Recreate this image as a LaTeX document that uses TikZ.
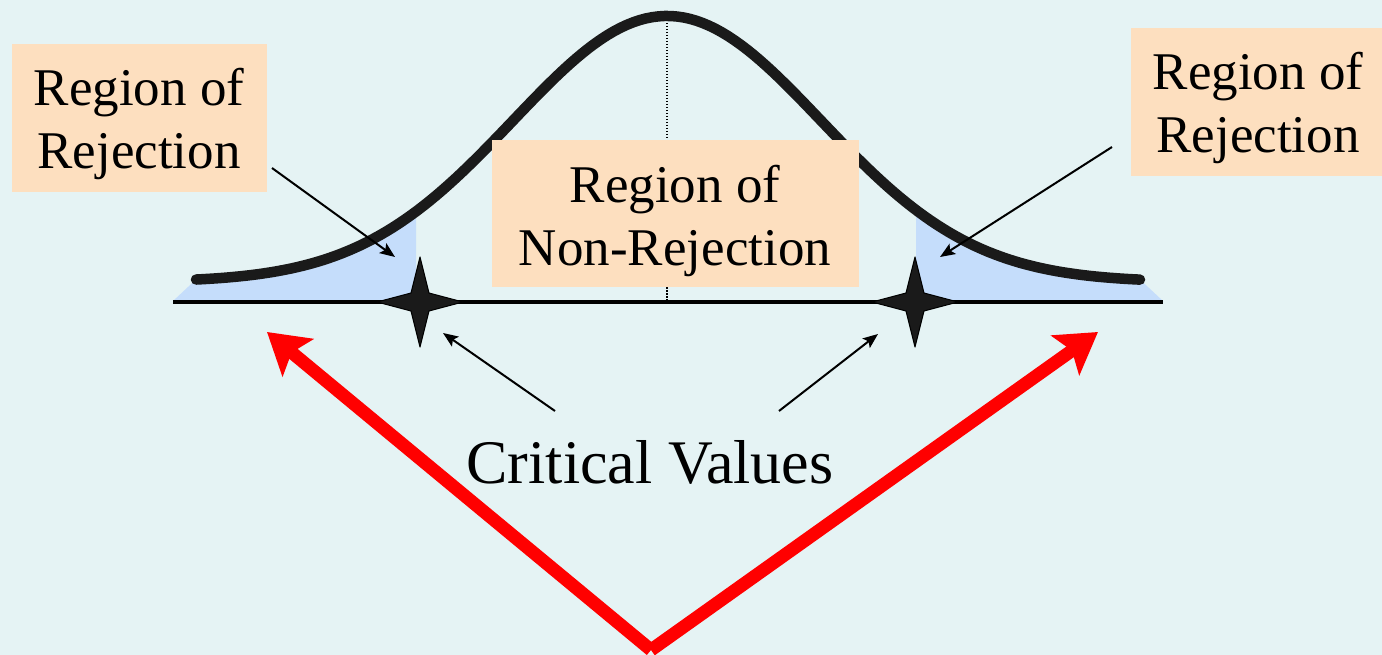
\documentclass[tikz,border=0pt]{standalone}
\usepackage{fontspec}
\setmainfont{Liberation Serif}
\usetikzlibrary{arrows.meta}
\definecolor{bg}{RGB}{229,243,244}
\definecolor{peach}{RGB}{253,223,191}
\definecolor{tailblue}{RGB}{197,221,251}
\definecolor{curvecol}{RGB}{26,26,26}
\definecolor{arrowred}{RGB}{255,0,0}
\tikzset{
  regionbox/.style={rectangle, fill=peach, inner sep=0pt},
  boxtext/.style={inner sep=0pt, align=center, font=\fontsize{53}{63}\selectfont},
  bigtext/.style={inner sep=0pt, font=\fontsize{62}{74}\selectfont},
  thinarrow/.style={draw=black, line width=2pt, -{Stealth[length=15pt,width=12pt,inset=3pt]}},
  redarrow/.style={draw=arrowred, line width=13pt, -{Stealth[length=40pt,width=48pt,inset=8pt]}},
  critstar/.pic={
    \filldraw[fill=curvecol, draw=black, line width=1pt, line join=round]
      (0,-45) -- (9,-9) -- (43,0) -- (9,9) -- (0,45) -- (-9,9) -- (-43,0) -- (-9,-9) -- cycle;
  }
}
\begin{document}
\begin{tikzpicture}[x=1pt, y=-1pt,
  declare function={gy(\t)=282-266*exp(-0.5*((\t-667)/154)^2);}]
\useasboundingbox (0,0) rectangle (1382,655);
\fill[bg] (0,0) rectangle (1382,655);

% rejection tails
\fill[tailblue] (173,301) -- (196,{gy(196)}) -- plot[domain=196:416, samples=40] (\x,{gy(\x)}) -- (416,302) -- cycle;
\fill[tailblue] (916,302) -- plot[domain=916:1140, samples=40] (\x,{gy(\x)}) -- (1163,301) -- (1163,302) -- cycle;

% centre dotted line
\draw[black, line width=1.5pt, dash pattern=on 1.5pt off 1.5pt] (667,14) -- (667,300);

% axis
\draw[black, line width=4pt] (173,302) -- (1163,302);

% normal curve
\draw[curvecol, line width=10.5pt, line cap=round, line join=round]
  plot[domain=196:1140, samples=150] (\x,{gy(\x)});

% critical value stars
\pic at (420,302) {critstar};
\pic at (915,302) {critstar};

% boxes
\node[regionbox, minimum width=255pt, minimum height=148pt] (lbox) at (139.5,118) {};
\node[regionbox, minimum width=367pt, minimum height=147pt] (mbox) at (675.5,213.5) {};
\node[regionbox, minimum width=253pt, minimum height=148pt] (rbox) at (1257.5,102) {};
\node[boxtext] (ltext) at (139,124.3) {Region of\\Rejection};
\node[boxtext] (mtext) at (675,221) {Region of\\Non-Rejection};
\node[boxtext] (rtext) at (1258,107.8) {Region of\\Rejection};
\node[bigtext, anchor=base] (crit) at (650,483) {Critical Values};

% thin arrows
\coordinate (l1) at (272,168);
\coordinate (t1) at (395,257);
\coordinate (r1) at (1112,147);
\coordinate (t2) at (940,257);
\coordinate (c1) at (555,411);
\coordinate (t3) at (443,333);
\coordinate (c2) at (779,411);
\coordinate (t4) at (878,334);
\draw[thinarrow] (l1) -- (t1);
\draw[thinarrow] (r1) -- (t2);
\draw[thinarrow] (c1) -- (t3);
\draw[thinarrow] (c2) -- (t4);

% red arrows
\coordinate (v) at (651,650);
\coordinate (rl) at (267,332);
\coordinate (rr) at (1098,332);
\draw[redarrow] (v) -- (rl);
\draw[redarrow] (v) -- (rr);
\end{tikzpicture}
\end{document}
